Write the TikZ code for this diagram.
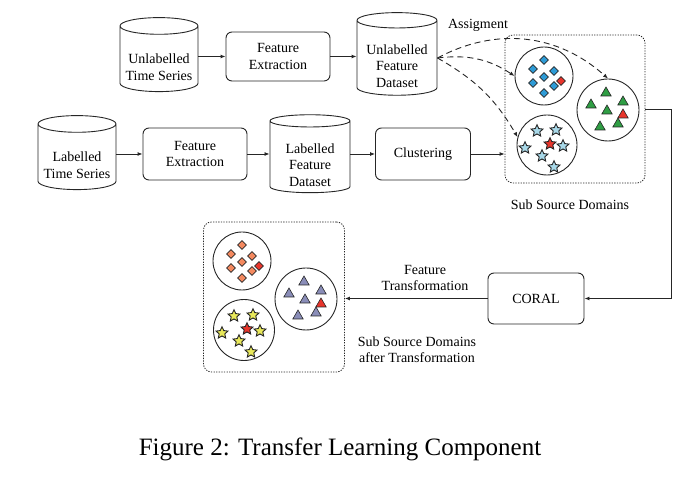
\documentclass[tikz,border=0pt]{standalone}
\usepackage{fontspec}
\setmainfont{Liberation Serif}
\usepackage{xcolor}
\usetikzlibrary{
    arrows.meta,
    shapes,
    positioning,
    calc
}
\definecolor{dblue}{HTML}{2E9BD6}
\definecolor{dred}{HTML}{E8352B}
\definecolor{dgreen}{HTML}{2F9E44}
\definecolor{dsky}{HTML}{A8D8E8}
\definecolor{dorange}{HTML}{F4895F}
\definecolor{dpurple}{HTML}{8A8DB8}
\definecolor{dyellow}{HTML}{E8E85A}
\newcommand{\lowtext}{\rule{0pt}{26pt}}
\tikzset{
    base/.style={draw=black!85, line width=0.9pt, font=\fontsize{14}{16.5}\selectfont, align=center},
    box/.style={base, rounded corners=6pt, minimum width=#1, minimum height=51pt},
    cyl/.style={base, cylinder, shape border rotate=90, aspect=0.25, minimum width=78pt, minimum height=74pt, inner sep=0pt},
    dombox/.style={draw=black!85, line width=0.8pt, dash pattern=on 1.3pt off 1.3pt, rounded corners=8pt, minimum width=#1},
    ring/.style={circle, draw=black!85, line width=0.9pt, minimum size=#1, inner sep=0pt},
    arr/.style={-{Latex[length=5pt,width=4pt]}, line width=0.9pt, draw=black!85},
    dsh/.style={arr, dash pattern=on 6pt off 4pt},
    dmd/.style={diamond, draw=black!85, fill=#1, minimum size=9pt, inner sep=0pt, line width=0.6pt},
    tri/.style={regular polygon, regular polygon sides=3, draw=black!85, fill=#1, minimum size=12pt, inner sep=0pt, line width=0.6pt},
    str/.style={star, star points=5, star point ratio=2.1, draw=black!85, fill=#1, minimum size=12.5pt, inner sep=0pt, line width=0.9pt},
    lbl/.style={font=\fontsize{14}{16.5}\selectfont, align=center}
}
\begin{document}
\begin{tikzpicture}[x=1pt, y=1pt]
    \useasboundingbox (0,0) rectangle (689,487);
    \node[cyl] (uts) at (159,428) {\lowtext Unlabelled\\Time Series};
    \node[box=104pt, minimum height=49pt] (fe1) at (278,430.5) {Feature\\Extraction};
    \node[cyl, minimum width=80pt] (ufd) at (397,429) {\lowtext Unlabelled\\Feature\\Dataset};
    \node[cyl] (lts) at (77,330) {\lowtext Labelled\\Time Series};
    \node[box=104pt, minimum height=52pt] (fe2) at (195,333) {Feature\\Extraction};
    \node[cyl, minimum width=80pt] (lfd) at (310,330) {\lowtext Labelled\\Feature\\Dataset};
    \node[box=95pt, minimum height=52pt] (clus) at (423,333) {Clustering};
    \node[box=96pt] (coral) at (536,188.5) {CORAL};
    \node[dombox=140pt, minimum height=148pt] (sub) at (575,378) {};
    \node[dombox=141pt, minimum height=150pt] (after) at (274,190) {};
    \node[ring=58pt] (cblue) at (544,411) {};
    \node[ring=62pt] (cgreen) at (608,377) {};
    \node[ring=60pt] (cstar) at (547,342) {};
    \node[ring=58pt] (corange) at (242,226) {};
    \node[ring=62pt] (cpurple) at (306,188) {};
    \node[ring=61pt] (cyellow) at (244,157) {};
    \foreach \dx/\dy [count=\i] in {0/16,-11/7,10/5,0/-1,-11/-7,10/-10,0/-17}{
        \node[dmd=dblue] (bd\i) at ($(cblue)+(\dx,\dy)$) {};
        \node[dmd=dorange] (od\i) at ($(corange)+(\dx,\dy)$) {};
    }
    \node[dmd=dred] (bdr) at ($(cblue)+(17,-5)$) {};
    \node[dmd=dred] (odr) at ($(corange)+(17,-5)$) {};
    \foreach \dx/\dy [count=\i] in {-2/17,-17/5,15/8,-1/-1,-8/-17,10/-14}{
        \node[tri=dgreen] (gt\i) at ($(cgreen)+(\dx,\dy)$) {};
        \node[tri=dpurple] (pt\i) at ($(cpurple)+(\dx,\dy)$) {};
    }
    \node[tri=dred] (gtr) at ($(cgreen)+(15,-5)$) {};
    \node[tri=dred] (ptr) at ($(cpurple)+(15,-5)$) {};
    \foreach \dx/\dy [count=\i] in {-10/14,9/15,-22/-3,16/-1,-5/-11,7/-22}{
        \node[str=dsky] (ss\i) at ($(cstar)+(\dx,\dy)$) {};
        \node[str=dyellow] (ys\i) at ($(cyellow)+(\dx,\dy)$) {};
    }
    \node[str=dred] (ssr) at ($(cstar)+(3,1)$) {};
    \node[str=dred] (ysr) at ($(cyellow)+(3,1)$) {};
    \draw[arr] (uts.east |- fe1) -- (fe1);
    \draw[arr] (fe1) -- (fe1 -| ufd.west);
    \draw[arr] (lts.east |- fe2) -- (fe2);
    \draw[arr] (fe2) -- (fe2 -| lfd.west);
    \draw[arr] (lfd.east |- clus) -- (clus);
    \draw[arr] (clus.east) -- (clus.east -| sub.west);
    \draw[dsh] (ufd.east) to[bend left=35] (cgreen.north);
    \draw[dsh] (ufd.east) to[bend left=20] (cblue.west);
    \draw[dsh] (ufd.east) to[bend left=15] (cstar.165);
    \draw[arr] (sub.east) -- ++(26,0) |- (coral.east);
    \draw[arr] (coral.west) -- (coral.west -| after.east);
    \node[lbl] (asg) at (478,462) {Assigment};
    \node[lbl] (ssd) at (570,282) {Sub Source Domains};
    \node[lbl] (ftr) at (425,209) {Feature\\Transformation};
    \node[lbl] (ssa) at (417,137.5) {Sub Source Domains\\after Transformation};
    \node (cap) at (340,38) {\fontsize{25}{28}\selectfont Figure 2: Transfer Learning Component};
\end{tikzpicture}
\end{document}
